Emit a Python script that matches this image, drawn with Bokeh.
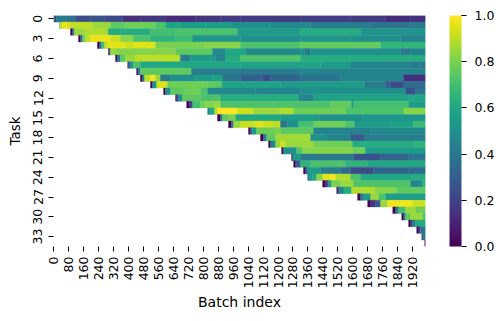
from bokeh.plotting import figure
from bokeh.models import ColumnDataSource, LinearColorMapper, ColorBar, FixedTicker
from bokeh.palettes import Viridis256
from bokeh.transform import transform
from bokeh.embed import file_html
from bokeh.resources import INLINE

N_BATCHES = 1989
N_TASKS = 35
x_tick_labels = list(range(0, 1921, 80))
y_tick_labels = list(range(0, 34, 3))

# each task: runs of (first batch index, accuracy)
task_0 = [(0,.55),(5,.2),(16,.42),(70,.38),(118,.24),(198,.26),(278,.22),(369,.14),(465,.16),(597,.12),(760,.15),(893,.17),(1000,.17),(1321,.18),(1589,.17),(1776,.12),(1910,.14)]
task_1 = [(32,.75),(37,.9),(48,.97),(70,.95),(91,.9),(209,.85),(305,.75),(385,.78),(546,.72),(599,.58),(679,.55),(813,.55),(947,.5),(1161,.48),(1375,.42),(1696,.38),(1910,.4)]
task_2 = [(91,0),(102,.4),(112,.85),(171,.88),(278,.85),(294,.62),(519,.7),(653,.72),(984,.55),(1321,.62),(1642,.52)]
task_3 = [(134,0),(144,.3),(155,.78),(171,.9),(198,.97),(305,.92),(358,.82),(428,.72),(519,.65),(653,.68),(743,.52),(1000,.5),(1321,.52),(1589,.5),(1856,.45)]
task_4 = [(235,0),(246,.3),(257,.7),(273,.9),(289,.96),(385,.92),(428,.95),(546,.8),(813,.82),(1000,.72),(1321,.76),(1749,.66)]
task_5 = [(294,0),(300,.4),(305,.85),(332,.82),(653,.75),(840,.72),(851,.47),(920,.6),(1027,.47),(1321,.5),(1343,.4),(1375,.5),(1856,.4),(1910,.45)]
task_6 = [(332,0),(342,.4),(358,.75),(385,.85),(439,.9),(669,.85),(679,.42),(733,.55),(867,.45),(920,.62),(1000,.72),(1321,.62),(1900,.62)]
task_7 = [(396,.3),(412,.55),(428,.72),(465,.6),(1000,.58),(1428,.55),(1589,.45),(1910,.42),(1963,.4)]
task_8 = [(444,.1),(455,.45),(465,.75),(733,.72),(738,.42),(1321,.45)]
task_9 = [(465,0),(476,.4),(487,.9),(519,.98),(546,.85),(572,.42),(626,.5),(760,.55),(851,.58),(904,.38),(1000,.3),(1118,.22),(1161,.32),(1321,.38),(1535,.45),(1873,.14)]
task_10 = [(519,0),(530,.5),(551,.88),(562,.95),(599,.92),(610,.78),(824,.75),(893,.7),(904,.58),(1214,.55),(1664,.42),(1776,.3),(1803,.22),(1873,.35)]
task_11 = [(589,0),(599,.5),(626,.75),(706,.78),(786,.72),(824,.47),(1081,.45),(1321,.5),(1883,.25),(1937,.38)]
task_12 = [(653,0),(658,.2),(669,.5),(690,.75),(786,.72),(893,.62),(1311,.45),(1391,.58),(1900,.6)]
task_13 = [(712,0),(728,.2),(744,.7),(786,.78),(813,.82),(867,.85),(893,.72),(1177,.72),(1482,.76),(1594,.5),(1605,.7),(1900,.55)]
task_14 = [(824,.5),(840,.6),(861,.88),(877,1.0),(984,.92),(1070,.85),(1214,.88),(1284,.78),(1562,.72),(1873,.82)]
task_15 = [(877,0),(893,.4),(904,.75),(936,.8),(974,.6),(1214,.55),(1421,.5),(1659,.52)]
task_16 = [(936,0),(952,.4),(963,.85),(1000,.92),(1081,.95),(1118,.92),(1172,.9),(1214,.38),(1250,.5),(1311,.7),(1391,.78),(1562,.72),(1610,.55),(1800,.58),(1925,.68)]
task_17 = [(1043,0),(1054,.4),(1065,.55),(1086,.78),(1188,.8),(1214,.75),(1391,.45),(1700,.48)]
task_18 = [(1107,0),(1123,.4),(1140,.75),(1188,.86),(1375,.5),(1460,.45),(1589,.28),(1660,.42)]
task_19 = [(1150,0),(1161,.45),(1188,.85),(1214,.93),(1240,.85),(1391,.78),(1598,.62),(1930,.65)]
task_20 = [(1220,0),(1230,.5),(1300,.72),(1330,.82),(1600,.78),(1668,.55)]
task_21 = [(1273,0),(1279,.55),(1321,.4),(1605,.25),(1749,.32),(1900,.38)]
task_22 = [(1284,0),(1295,.3),(1321,.65),(1375,.72),(1535,.72),(1562,.65),(1680,.6)]
task_23 = [(1337,0),(1348,.3),(1359,.55),(1428,.42),(1535,.35),(1589,.22),(1712,.32),(1900,.35)]
task_24 = [(1359,.4),(1370,.55),(1386,.6),(1407,.82),(1439,.95),(1482,.98),(1509,.88),(1589,.72),(1642,.6),(1920,.62)]
task_25 = [(1439,0),(1455,.2),(1471,.55),(1487,.8),(1540,.85),(1605,.72),(1910,.45),(1970,.65)]
task_26 = [(1514,.1),(1525,.45),(1553,.62),(1594,.88),(1720,.82),(1835,.75)]
task_27 = [(1626,0),(1642,.4),(1659,.55),(1696,.85),(1740,.72),(1776,.55)]
task_28 = [(1680,0),(1696,.15),(1723,.3),(1749,.85),(1787,.98),(1920,.92)]
task_29 = [(1814,0),(1830,.4),(1846,.7),(1883,.85),(1937,.78)]
task_30 = [(1862,0),(1873,.4),(1883,.75),(1910,.85),(1975,.72)]
task_31 = [(1899,0),(1910,.2),(1921,.45),(1937,.62)]
task_32 = [(1942,0),(1953,.2),(1963,.4)]
task_33 = [(1969,.1),(1974,.4)]
task_34 = [(1985,0)]
tasks = [task_0,task_1,task_2,task_3,task_4,task_5,task_6,task_7,task_8,task_9,task_10,task_11,
         task_12,task_13,task_14,task_15,task_16,task_17,task_18,task_19,task_20,task_21,task_22,
         task_23,task_24,task_25,task_26,task_27,task_28,task_29,task_30,task_31,task_32,task_33,task_34]

left, right, top, bottom, val = [], [], [], [], []
for r, runs in enumerate(tasks):
    for i, (b, v) in enumerate(runs):
        end = runs[i + 1][0] if i + 1 < len(runs) else N_BATCHES
        if end <= b:
            continue
        left.append(b); right.append(end); top.append(r); bottom.append(r + 1); val.append(v)

src = ColumnDataSource(dict(left=left, right=right, top=top, bottom=bottom, v=val))
mapper = LinearColorMapper(palette=Viridis256, low=0, high=1)

p = figure(width=500, height=320, frame_width=372, frame_height=231,
           x_range=(0, N_BATCHES), y_range=(N_TASKS, 0),
           output_backend="svg", toolbar_location=None,
           min_border_left=53, min_border_top=15, min_border_bottom=5, min_border_right=5,
           x_axis_label="Batch index", y_axis_label="Task")
p.quad(left="left", right="right", top="top", bottom="bottom", source=src,
       fill_color=transform("v", mapper), line_color=transform("v", mapper), line_width=0.4)

p.outline_line_color = None
p.grid.visible = False
p.background_fill_color = "white"

FS = "12.5px"
for ax in (p.xaxis[0], p.yaxis[0]):
    ax.axis_line_color = None
    ax.major_tick_line_color = "black"
    ax.major_tick_line_width = 1
    ax.major_tick_in = 0
    ax.major_tick_out = 5
    ax.minor_tick_line_color = None
    ax.major_label_text_font = "DejaVu Sans"
    ax.major_label_text_font_size = FS
    ax.major_label_text_color = "black"
    ax.axis_label_text_font = "DejaVu Sans"
    ax.axis_label_text_font_style = "normal"
    ax.axis_label_text_color = "black"
p.xaxis[0].major_label_orientation = 1.5708
p.xaxis[0].major_label_standoff = 5
p.xaxis[0].axis_label_standoff = 3
p.yaxis[0].major_label_orientation = "parallel"
p.yaxis[0].major_label_standoff = 6
p.yaxis[0].axis_label_standoff = 8
p.xaxis[0].axis_label_text_font_size = "14px"
p.yaxis[0].axis_label_text_font_size = "13.5px"

p.xaxis[0].ticker = FixedTicker(ticks=[k + 0.5 for k in x_tick_labels])
p.xaxis[0].major_label_overrides = {k + 0.5: str(k) for k in x_tick_labels}
p.yaxis[0].ticker = FixedTicker(ticks=[k + 0.5 for k in y_tick_labels])
p.yaxis[0].major_label_overrides = {k + 0.5: str(k) for k in y_tick_labels}

cb = ColorBar(color_mapper=mapper, width=12, height=231, padding=0, location=(24, 0),
              ticker=FixedTicker(ticks=[0, .2, .4, .6, .8, 1.0]),
              major_label_overrides={0: "0.0", .2: "0.2", .4: "0.4", .6: "0.6", .8: "0.8", 1.0: "1.0"},
              major_label_text_font="DejaVu Sans", major_label_text_font_size=FS,
              major_label_text_color="black",
              major_tick_line_color="black", major_tick_in=0, major_tick_out=5,
              minor_tick_line_color=None, bar_line_color=None, border_line_color=None,
              label_standoff=8, background_fill_color=None)
p.add_layout(cb, "right")

open("out.html", "w").write(file_html(p, INLINE))
